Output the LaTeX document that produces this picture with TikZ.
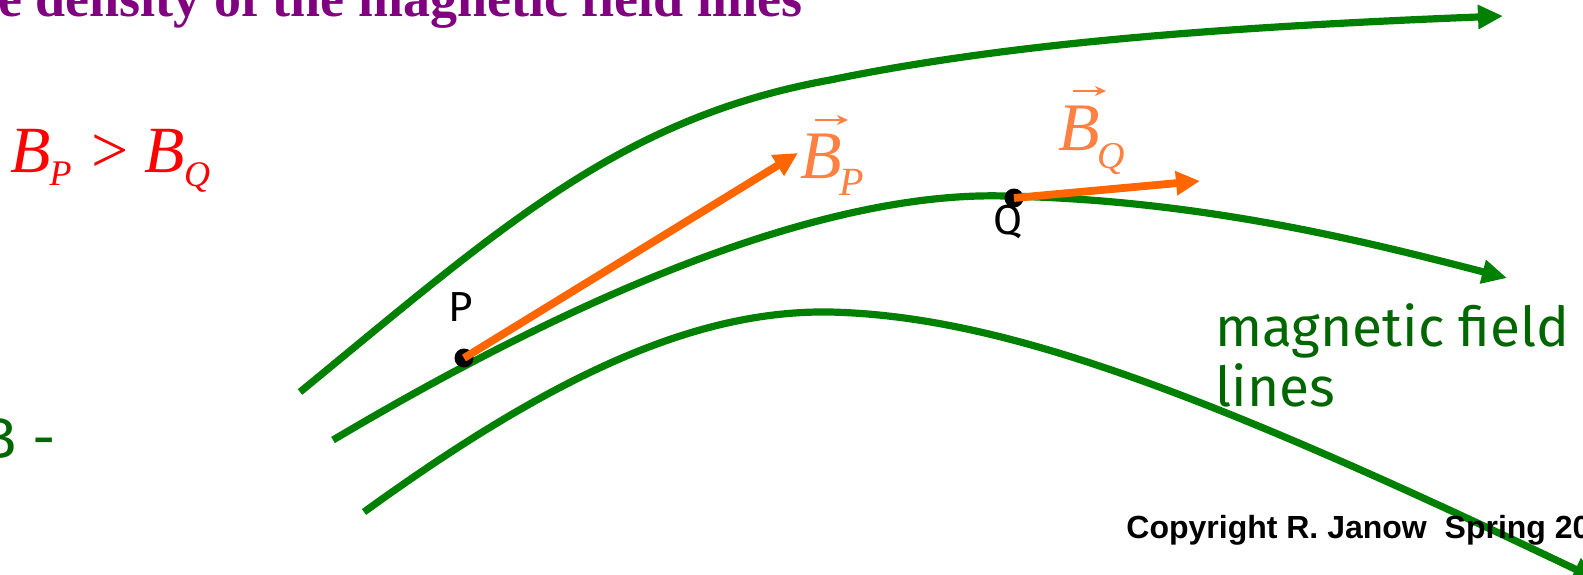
\documentclass[tikz,border=0pt]{standalone}
\usepackage{fontspec}
\setmainfont{Liberation Serif}
\newfontfamily\handfont{Fira Sans}
\newfontfamily\arialfont{Liberation Sans}
\usetikzlibrary{arrows.meta}
\definecolor{fieldgreen}{RGB}{0,128,0}
\definecolor{labelgreen}{RGB}{0,102,0}
\definecolor{vecorange}{RGB}{255,102,0}
\definecolor{labelorange}{RGB}{255,128,64}
\definecolor{titlepurple}{RGB}{128,0,128}
\tikzset{
  fieldline/.style={draw=fieldgreen, line width=3.6pt, -{Triangle[length=12.5pt,width=11.5pt]}},
  bvector/.style={draw=vecorange, line width=3.9pt, -{Triangle[length=12pt,width=11.5pt]}},
  accentarrow/.style={draw=labelorange, line width=1pt, -{Stealth[length=5.5pt,width=5pt]}},
  pointdot/.style={circle, fill=black, inner sep=0pt, minimum size=9.5pt},
  pointlabel/.style={font=\handfont\fontsize{21}{21}\selectfont, text=black, inner sep=0pt},
  veclabel/.style={font=\fontsize{34}{34}\selectfont\itshape, text=labelorange, inner sep=0pt, anchor=base west},
}
\begin{document}
\begin{tikzpicture}[x={(0.5pt,0)}, y={(0,-0.5pt)}]
\useasboundingbox (0,0) rectangle (1583,574);
\clip (0,0) rectangle (1583,574);

% title (cut off)
\node[anchor=base west, inner sep=0pt, text=titlepurple,
      font=\bfseries\fontsize{27}{27}\selectfont] (title) at (-2,16)
  {e density of the magnetic field lines};

% red relation
\node[anchor=base west, inner sep=0pt, text=red,
      font=\fontsize{33}{33}\selectfont] (rel) at (10,172)
  {\itshape B\kern-0.5pt\raisebox{-6.5pt}{\fontsize{18}{18}\selectfont P}\hspace{10pt}\upshape >\hspace{8pt}\itshape B\kern-0.5pt\raisebox{-7pt}{\fontsize{18}{18}\selectfont Q}};

% left cut text
\node[anchor=base east, inner sep=0pt, text=labelgreen,
      font=\handfont\fontsize{29}{29}\selectfont] (leftcut) at (56,458) {B -};

% field lines
\coordinate (t0) at (300,392);
\coordinate (t1) at (830,80);
\coordinate (t2) at (1503,16);
\draw[fieldline] (t0) .. controls (500,228) and (620,118) .. (t1)
                     .. controls (1000,45) and (1200,28) .. (t2);

\coordinate (m0) at (333,440);
\coordinate (m1) at (1005,196);
\coordinate (m2) at (1507,278);
\draw[fieldline] (m0) .. controls (510,335) and (790,190) .. (m1)
                     .. controls (1200,200) and (1360,240) .. (m2);

\coordinate (b0) at (364,512);
\coordinate (b1) at (830,312);
\coordinate (b2) at (1598,580);
\draw[fieldline] (b0) .. controls (560,370) and (700,310) .. (b1)
                     .. controls (1000,316) and (1200,390) .. (b2);

% points
\node[pointdot] (P) at (464,358) {};
\node[pointdot] (Q) at (1014,198) {};
\node[pointlabel] (Plab) at (461,307) {P};
\node[pointlabel] (Qlab) at (1008,222) {Q};

% B vectors
\coordinate (BPtip) at (798,153);
\coordinate (BQtip) at (1200,181);
\draw[bvector] (P.center) -- (BPtip);
\draw[bvector] (Q.center) -- (BQtip);

% vector labels
\node[veclabel] (BPlab) at (800,178) {B\kern-1pt\raisebox{-8.5pt}{\fontsize{20}{20}\selectfont P}};
\node[veclabel] (BQlab) at (1058,150) {B\kern-1pt\raisebox{-9pt}{\fontsize{19}{19}\selectfont Q}};
\draw[accentarrow] (815,120) -- (848,120);
\draw[accentarrow] (1073,91) -- (1106,91);

% annotation
\node[anchor=base west, align=left, inner sep=0pt, text=labelgreen,
      font=\handfont\fontsize{27.5}{30}\selectfont] (fieldlab) at (1215,406)
  {magnetic field\\lines};

% copyright
\node[anchor=base west, inner sep=0pt, text=black,
      font=\arialfont\bfseries\fontsize{16}{16}\selectfont] (copy) at (1126,538)
  {Copyright R. Janow\ \ Spring 20};
\end{tikzpicture}
\end{document}
